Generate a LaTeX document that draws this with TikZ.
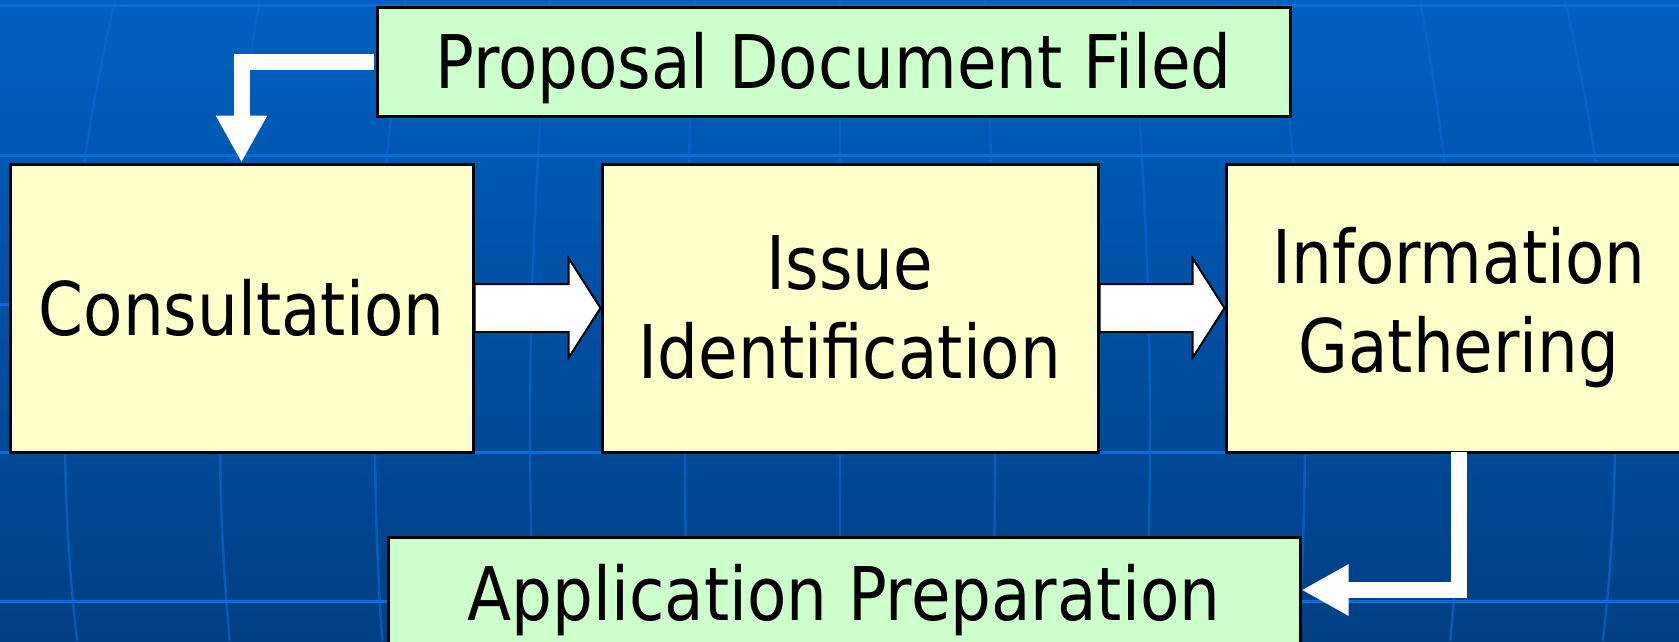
\documentclass[tikz,border=0pt]{standalone}
\usepackage{fontspec}
\setmainfont{DejaVu Sans}[FakeStretch=0.87]
\usetikzlibrary{arrows.meta}
\definecolor{bgtop}{HTML}{0060C0}
\definecolor{bgbot}{HTML}{003F84}
\definecolor{gridh}{HTML}{0C6DD6}
\definecolor{gridv}{HTML}{0A66CC}
\definecolor{boxyellow}{HTML}{FFFFCC}
\definecolor{boxgreen}{HTML}{CCFFCC}
\tikzset{
  stagebox/.style={draw=black, line width=3pt, fill=boxyellow, minimum height=288pt, align=center, inner sep=0pt, font=\fontsize{74}{89}\selectfont},
  eventbox/.style={stagebox, fill=boxgreen, text height=54pt, text depth=0pt},
  bentarrow/.style={draw=white, line width=16pt, -{Triangle[width=48pt,length=47pt]}},
  blockarrow/.style={fill=white, draw=black, line width=2pt, line join=miter},
  hline/.style={gridh, line width=3pt},
  vline/.style={gridv, line width=2.5pt, opacity=0.7},
}
\begin{document}
\begin{tikzpicture}[x=1pt,y=-1pt]
\useasboundingbox (0,0) rectangle (1679,641);
\clip (0,0) rectangle (1679,641);
\shade[top color=bgtop, bottom color=bgbot] (0,0) rectangle (1679,641);
\foreach \k in {-5,...,5} {
  \draw[vline] plot[domain=0:641, samples=30, variable=\t, smooth] ({840+155*\k*(1-0.0035*((\t-430)/100)^2)}, \t);
}
\foreach \yy in {5,155,304,452,601} \draw[hline] (0,\yy) -- (1679,\yy);

\node[stagebox, minimum width=463pt] (C) at (241.5,308) {Consultation};
\node[stagebox, minimum width=496pt] (I) at (850,308) {Issue\\Identification};
\node[stagebox, minimum width=466pt] (G) at (1459,308) {Information\\Gathering};
\node[eventbox, minimum width=913pt, minimum height=109pt] (P) at (833.5,61.5) {Proposal Document Filed};
\node[eventbox, minimum width=912pt, minimum height=112pt] (A) at (844,593) {Application Preparation};

\draw[blockarrow] ([yshift=24pt]C.east) -- ([xshift=-32pt,yshift=24pt]I.west) -- ([xshift=-32pt,yshift=50pt]I.west) -- (I.west) -- ([xshift=-32pt,yshift=-50pt]I.west) -- ([xshift=-32pt,yshift=-24pt]I.west) -- ([yshift=-24pt]C.east) -- cycle;
\draw[blockarrow] ([yshift=24pt]I.east) -- ([xshift=-32pt,yshift=24pt]G.west) -- ([xshift=-32pt,yshift=50pt]G.west) -- (G.west) -- ([xshift=-32pt,yshift=-50pt]G.west) -- ([xshift=-32pt,yshift=-24pt]G.west) -- ([yshift=-24pt]I.east) -- cycle;

\coordinate (bend) at ([yshift=3pt]A.east);
\draw[bentarrow] ([xshift=-1.5pt]P.west) -| (C.north);
\draw[bentarrow] ([yshift=1.5pt]G.south) |- (bend);
\end{tikzpicture}
\end{document}
